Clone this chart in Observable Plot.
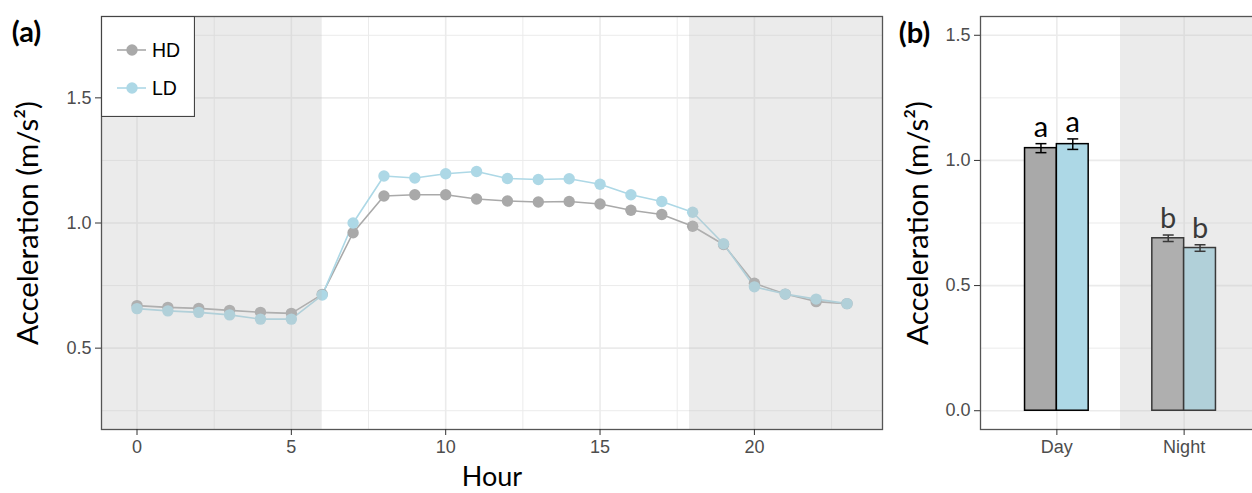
<!DOCTYPE html>
<html>
<head>
<meta charset="utf-8">
<script src="https://cdn.jsdelivr.net/npm/d3@7"></script>
<script src="https://cdn.jsdelivr.net/npm/@observablehq/plot@0.6"></script>
<style>
  html, body { margin: 0; padding: 0; background: #fff; overflow: hidden; }
  #wrap { position: relative; width: 1252px; height: 493px; overflow: hidden; }
  #pa { position: absolute; left: 0; top: 0; width: 890px; }
  #pb { position: absolute; left: 880px; top: 0; width: 381px; }
  #pa svg, #pb svg { max-width: none !important; }
  #legend { position: absolute; left: 101px; top: 16px; }
</style>
</head>
<body>
<div id="wrap">
  <div id="pa"></div>
  <div id="pb"></div>
  <div id="legend"></div>
</div>
<script>
// ---------- data ----------
const hours = [0,1,2,3,4,5,6,7,8,9,10,11,12,13,14,15,16,17,18,19,20,21,22,23];
const hdValues = [0.670,0.663,0.659,0.651,0.643,0.639,0.715,0.961,1.108,1.113,1.113,1.096,1.088,1.084,1.086,1.076,1.051,1.034,0.987,0.914,0.759,0.716,0.686,0.678];
const ldValues = [0.658,0.649,0.643,0.633,0.616,0.616,0.712,1.000,1.188,1.180,1.197,1.206,1.178,1.174,1.177,1.155,1.113,1.086,1.043,0.917,0.745,0.716,0.696,0.678];
const seriesNames = ["HD", "LD"];
const seriesColors = ["#a9a9a9", "#add8e6"];

const periods = ["Day", "Night"];
const barHD = [1.049, 0.689];
const barLD = [1.065, 0.650];
const seHD = [0.018, 0.013];
const seLD = [0.021, 0.013];
const lettersHD = ["a", "b"];
const lettersLD = ["a", "b"];

const hourTicks = [0, 5, 10, 15, 20];
const hourMinor = [2.5, 7.5, 12.5, 17.5, 22.5];
const accTicksA = [0.5, 1.0, 1.5];
const accMinorA = [0.25, 0.75, 1.25, 1.75];
const accTicksB = [0.0, 0.5, 1.0, 1.5];
const accMinorB = [0.25, 0.75, 1.25];
const nightEdges = [6, 17.9];     // lights on / lights off (hours)
const nightStartB = 1.5;         // boundary between Day and Night in panel b

const yTitle = "Acceleration (m/s\u00B2)";
const titleFont = "Lato, 'Open Sans', sans-serif";
const tickFont = "'Liberation Sans', Arial, sans-serif";
const gridCol = "#ebebeb";
const shadeCol = "#bebebe";
const shadeOp = 0.3;

// ---------- panel (a) ----------
const xDomA = [-1.15, 24.15];
const yDomA = [0.175, 1.825];
const lineData = [];
hours.forEach((h, i) => {
  lineData.push({hour: h, value: hdValues[i], series: seriesNames[0]});
});
hours.forEach((h, i) => {
  lineData.push({hour: h, value: ldValues[i], series: seriesNames[1]});
});
const nightsA = [
  {x1: xDomA[0], x2: nightEdges[0]},
  {x1: nightEdges[1], x2: xDomA[1]}
];
const colorScale = {domain: seriesNames, range: seriesColors};

const plotA = Plot.plot({
  width: 890, height: 493,
  marginLeft: 101, marginRight: 8, marginTop: 16, marginBottom: 64,
  style: {background: "transparent", overflow: "visible", maxWidth: "none"},
  x: {domain: xDomA, axis: null},
  y: {domain: yDomA, axis: null},
  color: colorScale,
  marks: [
    Plot.gridX(hourMinor, {stroke: gridCol, strokeOpacity: 1, strokeWidth: 1}),
    Plot.gridY(accMinorA, {stroke: gridCol, strokeOpacity: 1, strokeWidth: 1}),
    Plot.gridX(hourTicks, {stroke: gridCol, strokeOpacity: 1, strokeWidth: 1.6}),
    Plot.gridY(accTicksA, {stroke: gridCol, strokeOpacity: 1, strokeWidth: 1.6}),
    Plot.line(lineData, {x: "hour", y: "value", z: "series", stroke: "series", strokeWidth: 1.6}),
    Plot.dot(lineData.filter(d => d.series === seriesNames[0]), {x: "hour", y: "value", fill: "series", r: 5.7}),
    Plot.dot(lineData.filter(d => d.series === seriesNames[1]), {x: "hour", y: "value", fill: "series", r: 5.7}),
    Plot.rect(nightsA, {x1: "x1", x2: "x2", y1: () => yDomA[0], y2: () => yDomA[1], fill: shadeCol, fillOpacity: shadeOp}),
    Plot.frame({stroke: "#555", strokeWidth: 1.3}),
    Plot.axisX(hourTicks, {tickSize: 6, tickPadding: 5, fontSize: 18, fontFamily: tickFont, stroke: "#333", fill: "#4d4d4d", label: null}),
    Plot.axisY(accTicksA, {tickSize: 6, tickPadding: 4, fontSize: 18, fontFamily: tickFont, stroke: "#333", fill: "#4d4d4d", tickFormat: d3.format(".1f"), label: null}),
    Plot.text([yTitle], {frameAnchor: "left", rotate: -90, dx: -73, textAnchor: "middle", lineAnchor: "middle", fontSize: 29.5, fontFamily: titleFont, fill: "#000"}),
    Plot.text(["Hour"], {frameAnchor: "bottom", dy: 48, textAnchor: "middle", lineAnchor: "middle", fontSize: 27, fontFamily: titleFont, fill: "#000"}),
    Plot.text(["(a)"], {frameAnchor: "top-left", dx: -75, dy: 16, textAnchor: "middle", lineAnchor: "middle", fontSize: 29, fontWeight: "bold", fontFamily: titleFont, fill: "#000"})
  ]
});
document.getElementById("pa").appendChild(plotA);

// ---------- legend (a) ----------
(function () {
  const w = 94, h = 101;
  const svg = d3.select("#legend").append("svg").attr("width", w).attr("height", h);
  svg.append("rect").attr("x", 0.5).attr("y", 0.5).attr("width", w - 1).attr("height", h - 1)
    .attr("fill", "#fff").attr("stroke", "#444").attr("stroke-width", 1.2);
  seriesNames.forEach((name, i) => {
    const cy = 34 + i * 38;
    const g = svg.append("g");
    g.append("line").attr("x1", 16).attr("x2", 45).attr("y1", cy).attr("y2", cy)
      .attr("stroke", seriesColors[i]).attr("stroke-width", 1.6);
    g.append("circle").attr("cx", 31).attr("cy", cy).attr("r", 5.7).attr("fill", seriesColors[i]);
    g.append("text").attr("x", 51).attr("y", cy).attr("dy", "0.36em")
      .attr("font-family", tickFont).attr("font-size", 19.5).attr("fill", "#000").text(name);
  });
})();

// ---------- panel (b) ----------
const xDomB = [0.4, 2.6];
const yDomB = [-0.075, 1.575];
const barW = 0.25;
const bars = [];
periods.forEach((p, i) => {
  bars.push({pos: i + 1, x1: i + 1 - barW, x2: i + 1, value: barHD[i], se: seHD[i], letter: lettersHD[i], series: seriesNames[0]});
  bars.push({pos: i + 1, x1: i + 1, x2: i + 1 + barW, value: barLD[i], se: seLD[i], letter: lettersLD[i], series: seriesNames[1]});
});
const capHalf = 0.043;
const mid = d => (d.x1 + d.x2) / 2;

const plotB = Plot.plot({
  width: 381, height: 493,
  marginLeft: 100, marginRight: 1, marginTop: 16, marginBottom: 64,
  style: {background: "transparent", overflow: "visible", maxWidth: "none"},
  x: {domain: xDomB, axis: null},
  y: {domain: yDomB, axis: null},
  color: colorScale,
  marks: [
    Plot.gridY(accMinorB, {stroke: gridCol, strokeOpacity: 1, strokeWidth: 1}),
    Plot.gridY(accTicksB, {stroke: gridCol, strokeOpacity: 1, strokeWidth: 1.6}),
    Plot.gridX([1, 2], {stroke: gridCol, strokeOpacity: 1, strokeWidth: 1.6}),
    Plot.rectY(bars, {x1: "x1", x2: "x2", y1: 0, y2: "value", fill: "series", stroke: "#000", strokeWidth: 1.5}),
    Plot.link(bars, {x1: mid, x2: mid, y1: d => d.value - d.se, y2: d => d.value + d.se, stroke: "#000", strokeWidth: 1.5}),
    Plot.link(bars, {x1: d => mid(d) - capHalf, x2: d => mid(d) + capHalf, y1: d => d.value + d.se, y2: d => d.value + d.se, stroke: "#000", strokeWidth: 1.5}),
    Plot.link(bars, {x1: d => mid(d) - capHalf, x2: d => mid(d) + capHalf, y1: d => d.value - d.se, y2: d => d.value - d.se, stroke: "#000", strokeWidth: 1.5}),
    Plot.text(bars, {x: mid, y: d => d.value + d.se, text: "letter", dy: -16, fontSize: 29, fontFamily: titleFont, fill: "#000"}),
    Plot.rect([{x1: nightStartB, x2: xDomB[1]}], {x1: "x1", x2: "x2", y1: () => yDomB[0], y2: () => yDomB[1], fill: shadeCol, fillOpacity: shadeOp}),
    Plot.frame({stroke: "#555", strokeWidth: 1.3}),
    Plot.axisX([1, 2], {tickSize: 6, tickPadding: 5, fontSize: 18, fontFamily: tickFont, stroke: "#333", fill: "#4d4d4d", tickFormat: d => periods[d - 1], label: null}),
    Plot.axisY(accTicksB, {tickSize: 6, tickPadding: 4, fontSize: 18, fontFamily: tickFont, stroke: "#333", fill: "#4d4d4d", tickFormat: d3.format(".1f"), label: null}),
    Plot.text([yTitle], {frameAnchor: "left", rotate: -90, dx: -62, textAnchor: "middle", lineAnchor: "middle", fontSize: 29.5, fontFamily: titleFont, fill: "#000"}),
    Plot.text(["(b)"], {frameAnchor: "top-left", dx: -66, dy: 17, textAnchor: "middle", lineAnchor: "middle", fontSize: 29, fontWeight: "bold", fontFamily: titleFont, fill: "#000"})
  ]
});
document.getElementById("pb").appendChild(plotB);
</script>
</body>
</html>
